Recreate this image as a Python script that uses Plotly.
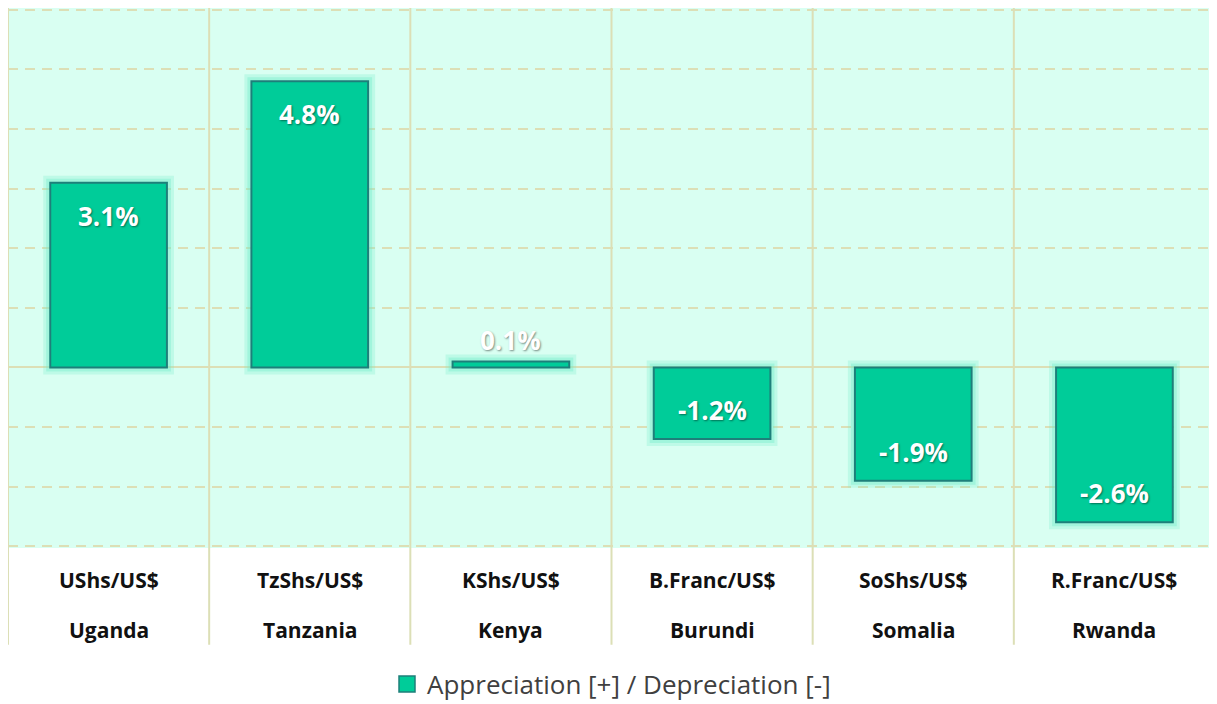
import plotly.graph_objects as go

codes = ["UShs/US$", "TzShs/US$", "KShs/US$", "B.Franc/US$", "SoShs/US$", "R.Franc/US$"]
countries = ["Uganda", "Tanzania", "Kenya", "Burundi", "Somalia", "Rwanda"]
values = [3.1, 4.8, 0.1, -1.2, -1.9, -2.6]
series_name = "Appreciation [+] / Depreciation [-]"

FONT = "Open Sans"
GRID = "#DCDFB6"
BAR = "#00CC99"
EDGE = "#1E7F7A"
BG = "#D9FFF2"

x = list(range(len(values)))
fig = go.Figure()

# soft glow behind bars
fig.add_trace(go.Bar(
    x=x, y=values, width=0.58, showlegend=False, hoverinfo="skip",
    marker=dict(color="rgba(0,0,0,0)", line=dict(color="rgba(110,235,200,0.25)", width=14)),
))
fig.add_trace(go.Bar(
    x=x, y=values, width=0.58, showlegend=False, hoverinfo="skip",
    marker=dict(color="rgba(0,0,0,0)", line=dict(color="rgba(110,235,200,0.35)", width=8)),
))
fig.add_trace(go.Bar(
    x=x, y=values, width=0.58, name=series_name, showlegend=False,
    marker=dict(color=BAR, line=dict(color=EDGE, width=2)),
))
# legend entry
fig.add_trace(go.Scatter(
    x=[None], y=[None], mode="markers", name=series_name, showlegend=True,
    marker=dict(symbol="square", size=20, color=BAR, line=dict(color=EDGE, width=1.5)),
))

# value labels
for xi, v in zip(x, values):
    if abs(v) < 0.5:
        shift = 21
    elif v > 0:
        shift = -33
    else:
        shift = 29
    fig.add_annotation(
        x=xi, y=v, yshift=shift, text=f"<b>{v:.1f}%</b>", showarrow=False,
        yanchor="middle", xanchor="center",
        font=dict(family=FONT, size=26, color="white", shadow="1px 1px 2px rgba(0,0,0,0.45)"),
    )

# category labels (two lines)
for xi, c, n in zip(x, codes, countries):
    fig.add_annotation(x=xi, y=-0.059, yref="paper", text=f"<b>{c}</b>", showarrow=False,
                       yanchor="middle", font=dict(family=FONT, size=21, color="#111111"))
    fig.add_annotation(x=xi, y=-0.152, yref="paper", text=f"<b>{n}</b>", showarrow=False,
                       yanchor="middle", font=dict(family=FONT, size=21, color="#111111"))

# vertical separators extending into the label area
for b in [i - 0.5 for i in range(len(values) + 1)]:
    fig.add_shape(type="line", x0=b, x1=b, xref="x", y0=-0.179, y1=1, yref="paper",
                  line=dict(color=GRID, width=2), layer="below")

fig.update_layout(
    width=1209, height=696,
    margin=dict(l=0, r=2, t=0, b=156, autoexpand=False),
    paper_bgcolor="white", plot_bgcolor=BG,
    barmode="overlay",
    showlegend=True,
    legend=dict(orientation="h", x=0.5, xanchor="center", y=-0.252, yanchor="middle",
                font=dict(family=FONT, size=26, color="#404040"), borderwidth=0),
    xaxis=dict(range=[-0.5, len(values) - 0.5], showticklabels=False, showgrid=False,
               zeroline=False, fixedrange=True),
    yaxis=dict(range=[-3.03, 6.03], dtick=1, tick0=0, showticklabels=False,
               showgrid=True, gridcolor=GRID, gridwidth=2, griddash="10px,7px",
               zeroline=True, zerolinecolor=GRID, zerolinewidth=2),
)

fig.write_html("out.html")
